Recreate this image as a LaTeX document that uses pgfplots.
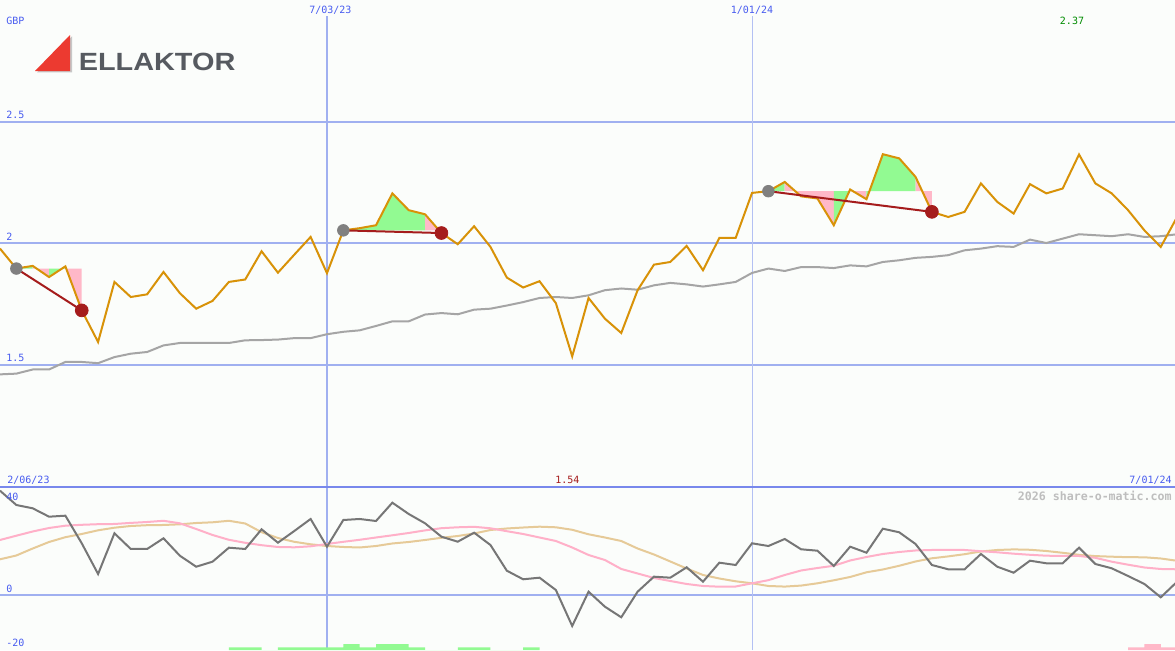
\documentclass[border=0pt]{standalone}
\usepackage{fontspec}
\setmainfont{DejaVu Sans Mono}
\newfontfamily\logofont{Liberation Sans}
\usepackage{graphicx}
\usepackage{pgfplots}
\pgfplotsset{compat=1.18}

\definecolor{bgcol}{RGB}{251,253,251}
\definecolor{gridblue}{RGB}{160,176,240}
\definecolor{divblue}{RGB}{120,136,236}
\definecolor{txtblue}{RGB}{72,92,240}
\definecolor{priceor}{RGB}{216,146,8}
\definecolor{magray}{RGB}{165,165,165}
\definecolor{oscgray}{RGB}{118,118,118}
\definecolor{oscpink}{RGB}{255,176,200}
\definecolor{osctan}{RGB}{230,202,152}
\definecolor{upfill}{RGB}{146,250,146}
\definecolor{dnfill}{RGB}{255,184,200}
\definecolor{exitred}{RGB}{165,28,28}
\definecolor{entrygray}{RGB}{128,128,128}
\definecolor{logored}{RGB}{236,58,48}
\definecolor{logogray}{RGB}{86,90,96}

\pgfplotsset{
  panel/.style={
    scale only axis, width=587.5pt, xmin=0, xmax=71.87,
    axis line style={draw=none}, major tick length=0pt,
    xtick={20}, xticklabels={}, extra x ticks={46}, extra x tick labels={},
    xmajorgrids, ymajorgrids,
    grid style={gridblue, line width=1pt},
    extra x tick style={grid style={gridblue!80, line width=0.5pt}},
    yticklabel style={anchor=south west, inner sep=0pt, xshift=3pt, yshift=1.2pt,
      text=txtblue, font=\fontsize{5}{6}\selectfont},
  },
}

\begin{document}
\begin{tikzpicture}
\useasboundingbox (0,0) rectangle (587.5pt,325pt);
\clip (0,0) rectangle (587.5pt,325pt);
\fill[bgcol] (0,0) rectangle (587.5pt,325pt);

% ---- price panel (weekly, k = weeks) ----
\begin{axis}[panel, at={(0pt,81.75pt)}, anchor=south west, height=243.25pt,
  ymin=1, ymax=3, ytick={1.5,2,2.5}, yticklabels={1.5,2,2.5}]

% trade areas against the entry level
\addplot[fill=upfill, draw=none] coordinates {(1,1.896) (2,1.907) (2,1.896)};
\addplot[fill=dnfill, draw=none] coordinates {(2,1.896) (2,1.907) (3,1.861) (3,1.896)};
\addplot[fill=upfill, draw=none] coordinates {(3,1.896) (3,1.861) (4,1.905) (4,1.896)};
\addplot[fill=dnfill, draw=none] coordinates {(4,1.896) (4,1.905) (5,1.724) (5,1.896)};

\addplot[fill=upfill, draw=none] coordinates {(21,2.053) (22,2.062) (23,2.074) (24,2.205) (25,2.136) (26,2.119) (26,2.053)};
\addplot[fill=dnfill, draw=none] coordinates {(26,2.053) (26,2.119) (27,2.042) (27,2.053)};

\addplot[fill=upfill, draw=none] coordinates {(47,2.214) (48,2.252) (48,2.214)};
\addplot[fill=dnfill, draw=none] coordinates {(48,2.214) (48,2.252) (49,2.193) (50,2.184) (51,2.074) (51,2.214)};
\addplot[fill=upfill, draw=none] coordinates {(51,2.214) (51,2.074) (52,2.221) (52,2.214)};
\addplot[fill=dnfill, draw=none] coordinates {(52,2.214) (52,2.221) (53,2.181) (53,2.214)};
\addplot[fill=upfill, draw=none] coordinates {(53,2.214) (53,2.181) (54,2.366) (55,2.349) (56,2.273) (56,2.214)};
\addplot[fill=dnfill, draw=none] coordinates {(56,2.214) (56,2.273) (57,2.129) (57,2.214)};

% entry points
\addplot[only marks, mark=*, mark size=2.9pt, entrygray] coordinates {(1,1.896) (21,2.053) (47,2.214)};

% moving average
\addplot[magray, line width=1pt] coordinates {
(0,1.461) (1,1.464) (2,1.481) (3,1.481) (4,1.512) (5,1.512) (6,1.507) (7,1.532)
(8,1.546) (9,1.553) (10,1.580) (11,1.590) (12,1.590) (13,1.590) (14,1.590) (15,1.601)
(16,1.602) (17,1.604) (18,1.610) (19,1.610) (20,1.626) (21,1.636) (22,1.642) (23,1.660)
(24,1.679) (25,1.679) (26,1.707) (27,1.713) (28,1.708) (29,1.727) (30,1.731) (31,1.744)
(32,1.758) (33,1.775) (34,1.779) (35,1.775) (36,1.786) (37,1.807) (38,1.814) (39,1.809)
(40,1.827) (41,1.837) (42,1.831) (43,1.822) (44,1.831) (45,1.841) (46,1.878) (47,1.896)
(48,1.886) (49,1.902) (50,1.902) (51,1.898) (52,1.909) (53,1.905) (54,1.923) (55,1.930)
(56,1.940) (57,1.944) (58,1.951) (59,1.971) (60,1.978) (61,1.988) (62,1.985) (63,2.015)
(64,2.001) (65,2.019) (66,2.037) (67,2.033) (68,2.029) (69,2.037) (70,2.026) (71,2.029)
(72,2.037)};

% weekly close
\addplot[priceor, line width=1pt] coordinates {
(0,1.978) (1,1.896) (2,1.907) (3,1.861) (4,1.905) (5,1.724) (6,1.594) (7,1.841)
(8,1.779) (9,1.790) (10,1.882) (11,1.795) (12,1.731) (13,1.763) (14,1.841) (15,1.851)
(16,1.967) (17,1.879) (18,1.953) (19,2.026) (20,1.877) (21,2.053) (22,2.062) (23,2.074)
(24,2.205) (25,2.136) (26,2.119) (27,2.042) (28,1.996) (29,2.070) (30,1.985) (31,1.859)
(32,1.818) (33,1.844) (34,1.754) (35,1.535) (36,1.775) (37,1.690) (38,1.631) (39,1.807)
(40,1.912) (41,1.923) (42,1.989) (43,1.889) (44,2.022) (45,2.022) (46,2.207) (47,2.214)
(48,2.252) (49,2.193) (50,2.184) (51,2.074) (52,2.221) (53,2.181) (54,2.366) (55,2.349)
(56,2.273) (57,2.129) (58,2.108) (59,2.129) (60,2.246) (61,2.170) (62,2.122) (63,2.243)
(64,2.205) (65,2.225) (66,2.365) (67,2.246) (68,2.205) (69,2.136) (70,2.053) (71,1.985)
(72,2.108)};

% entry -> exit
\addplot[exitred, line width=1pt] coordinates {(1,1.896) (5,1.724)};
\addplot[exitred, line width=1pt] coordinates {(21,2.053) (27,2.042)};
\addplot[exitred, line width=1pt] coordinates {(47,2.214) (57,2.129)};
\addplot[only marks, mark=*, mark size=3.2pt, exitred] coordinates {(5,1.724) (27,2.042) (57,2.129)};
\end{axis}

% ---- oscillator panel ----
\begin{axis}[panel, at={(0pt,0pt)}, anchor=south west, height=81.75pt,
  ymin=-20.28, ymax=40, ytick={0}, yticklabels={0}]
\addplot[osctan, line width=1pt] coordinates {
(0,13.16) (1,14.56) (2,17.14) (3,19.54) (4,21.31) (5,22.49) (6,23.85) (7,24.81)
(8,25.44) (9,25.73) (10,25.81) (11,26.06) (12,26.54) (13,26.80) (14,27.36) (15,26.36)
(16,23.15) (17,21.01) (18,19.61) (19,18.69) (20,18.06) (21,17.70) (22,17.51) (23,18.06)
(24,18.99) (25,19.54) (26,20.28) (27,21.09) (28,21.75) (29,22.67) (30,23.96) (31,24.52)
(32,24.88) (33,25.18) (34,24.96) (35,24.04) (36,22.38) (37,21.20) (38,19.91) (39,17.14)
(40,14.93) (41,12.35) (42,9.77) (43,7.37) (44,6.08) (45,5.05) (46,4.31) (47,3.32)
(48,3.10) (49,3.47) (50,4.31) (51,5.42) (52,6.64) (53,8.37) (54,9.40) (55,10.77)
(56,12.35) (57,13.53) (58,14.23) (59,15.04) (60,16.04) (61,16.59) (62,16.81) (63,16.67)
(64,16.22) (65,15.56) (66,14.82) (67,14.34) (68,14.12) (69,13.94) (70,13.90) (71,13.46)
(72,12.61)};
\addplot[oscpink, line width=1pt] coordinates {
(0,20.28) (1,21.86) (2,23.41) (3,24.70) (4,25.55) (5,25.88) (6,26.10) (7,26.18)
(8,26.58) (9,26.91) (10,27.36) (11,26.43) (12,24.33) (13,22.12) (14,20.35) (15,19.24)
(16,18.36) (17,17.70) (18,17.58) (19,17.95) (20,18.80) (21,19.61) (22,20.35) (23,21.20)
(24,22.01) (25,22.86) (26,23.82) (27,24.63) (28,24.96) (29,25.14) (30,24.59) (31,23.52)
(32,22.49) (33,21.20) (34,19.91) (35,17.51) (36,14.75) (37,12.90) (38,9.59) (39,7.93)
(40,6.27) (41,5.16) (42,4.06) (43,3.32) (44,3.06) (45,3.13) (46,4.31) (47,5.46)
(48,7.37) (49,9.03) (50,9.95) (51,10.77) (52,12.72) (53,14.01) (54,15.12) (55,15.85)
(56,16.41) (57,16.59) (58,16.59) (59,16.59) (60,16.15) (61,15.74) (62,15.23) (63,14.82)
(64,14.49) (65,14.38) (66,14.38) (67,13.71) (68,12.28) (69,11.17) (70,10.14) (71,9.59)
(72,9.47)};
\addplot[oscgray, line width=1pt] coordinates {
(0,38.45) (1,33.18) (2,31.96) (3,28.87) (4,29.24) (5,19.06) (6,7.74) (7,22.75)
(8,16.96) (9,16.96) (10,20.90) (11,14.49) (12,10.43) (13,12.28) (14,17.44) (15,16.96)
(16,24.22) (17,19.28) (18,23.59) (19,28.02) (20,17.81) (21,27.65) (22,28.02) (23,27.28)
(24,34.03) (25,29.86) (26,26.43) (27,21.49) (28,19.65) (29,22.97) (30,18.43) (31,8.96)
(32,5.79) (33,6.38) (34,1.84) (35,-11.43) (36,1.22) (37,-4.31) (38,-8.22) (39,1.22)
(40,6.75) (41,6.38) (42,10.21) (43,4.90) (44,11.91) (45,11.06) (46,19.06) (47,18.06)
(48,20.65) (49,16.85) (50,16.33) (51,10.69) (52,17.81) (53,15.59) (54,24.44) (55,23.12)
(56,18.80) (57,11.06) (58,9.47) (59,9.47) (60,15.12) (61,10.43) (62,8.22) (63,12.65)
(64,11.69) (65,11.69) (66,17.44) (67,11.43) (68,9.84) (69,7.00) (70,4.06) (71,-0.85)
(72,4.90)};
\end{axis}

% ---- signal bars (drawn over the grid) ----
\begin{axis}[at={(0pt,0pt)}, anchor=south west, scale only axis, width=587.5pt, height=81.75pt,
  xmin=0, xmax=71.87, ymin=0, ymax=60.28, hide axis]
\addplot[const plot, fill=upfill, draw=none] coordinates {
(14,1.0) (16,0) (17,1.0) (21,2.2) (22,1.0) (23,2.2) (25,1.0) (26,0) (28,1.0) (30,0) (32,1.0) (33,0)} \closedcycle;
\addplot[const plot, fill=dnfill, draw=none] coordinates {
(69,1.0) (70,2.2) (71,1.0) (72,1.0)} \closedcycle;
\end{axis}

% divider between panels
\draw[divblue, line width=1pt] (0pt,81.75pt) -- (587.5pt,81.75pt);

% labels
\fill[bgcol] (162.3pt,317pt) rectangle (164.8pt,325pt);
\fill[bgcol] (375pt,317pt) rectangle (377.2pt,325pt);
\begin{scope}[every node/.style={inner sep=0pt, font=\fontsize{5}{6}\selectfont}]
\node[anchor=base west, text=txtblue] at (3pt,312.5pt) {GBP};
\node[anchor=base, text=txtblue] at (165.2pt,318.4pt) {7/03/23};
\node[anchor=base, text=txtblue] at (376pt,318.4pt) {1/01/24};
\node[anchor=base, text={rgb,255:red,0;green,140;blue,0}] at (536pt,312.5pt) {2.37};
\node[anchor=base west, text=txtblue] at (3.5pt,83.4pt) {2/06/23};
\node[anchor=base west, text=exitred] at (277.5pt,83.4pt) {1.54};
\node[anchor=base east, text=txtblue] at (586pt,83.4pt) {7/01/24};
\node[anchor=base west, text=txtblue] at (3pt,75pt) {40};
\node[anchor=base west, text=txtblue] at (3pt,2pt) {-20};
\node[anchor=base east, text={rgb,255:red,190;green,190;blue,190}, font=\fontsize{5.8}{7}\selectfont\bfseries]
  at (586pt,74.6pt) {2026 share-o-matic.com};
\end{scope}

% logo
\fill[black!22] (18.5pt,288.8pt) -- (36pt,306.8pt) -- (36pt,288.8pt) -- cycle;
\fill[logored] (17.5pt,289.5pt) -- (35pt,307.5pt) -- (35pt,289.5pt) -- cycle;
\node[anchor=south west, inner sep=0pt, text=logogray] at (39.2pt,289.6pt)
  {\resizebox{78.3pt}{8.7pt}{\logofont\bfseries ELLAKTOR}};
\end{tikzpicture}
\end{document}
